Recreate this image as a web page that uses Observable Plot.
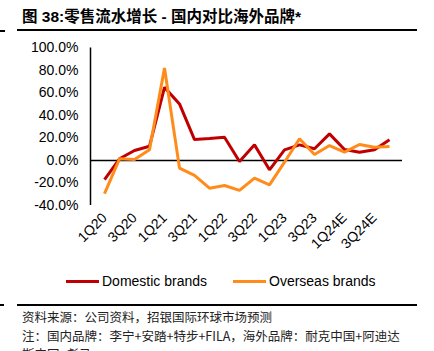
<!DOCTYPE html>
<html>
<head>
<meta charset="utf-8">
<script src="https://cdn.jsdelivr.net/npm/d3@7"></script>
<script src="https://cdn.jsdelivr.net/npm/@observablehq/plot@0.6"></script>
<style>
  html, body { margin: 0; padding: 0; background: #fff; }
  body { width: 434px; height: 351px; overflow: hidden; position: relative;
         font-family: "Liberation Sans", Arial, "Noto Sans CJK SC", sans-serif; }
  .abs { position: absolute; }
  #title { left: 22px; top: 4px; font-size: 15.5px; font-weight: bold; color: #000; white-space: nowrap;
           font-family: "Liberation Sans", Arial, "Noto Sans CJK SC", sans-serif; }
  .rule { background: #000; height: 2px; }
  #chart { left: 0; top: 36px; }
  .leg { top: 272px; font-size: 14px; color: #000; white-space: nowrap; line-height: 18px; }
  .sw { display: inline-block; width: 33px; height: 3px; vertical-align: middle; margin-right: 3px; position: relative; top: -1px; }
  .src { left: 22px; font-size: 12.5px; color: #222; white-space: nowrap;
         font-family: "Noto Sans CJK SC", sans-serif; line-height: 18px; }
</style>
</head>
<body>
<div id="title" class="abs">图 38:零售流水增长 - 国内对比海外品牌*</div>
<div class="abs rule" style="left:0;top:30px;width:5px;"></div>
<div class="abs rule" style="left:17px;top:29px;width:400px;"></div>
<div id="chart" class="abs"></div>
<div id="legend"></div>
<div class="abs rule" style="left:0;top:304px;width:4px;"></div>
<div class="abs rule" style="left:17px;top:304px;width:400px;"></div>
<div class="abs src" style="top:308px;">资料来源：公司资料，招银国际环球市场预测</div>
<div class="abs src" style="top:327px;">注：国内品牌：李宁+安踏+特步+FILA，海外品牌：耐克中国+阿迪达</div>
<div class="abs src" style="top:345px;">斯中国+彪马</div>
<script>
const quarters = ["1Q20","2Q20","3Q20","4Q20","1Q21","2Q21","3Q21","4Q21","1Q22","2Q22","3Q22","4Q22","1Q23","2Q23","3Q23","4Q23","1Q24E","2Q24E","3Q24E","4Q24E"];
const tickLabels = ["1Q20","3Q20","1Q21","3Q21","1Q22","3Q22","1Q23","3Q23","1Q24E","3Q24E"];
const domestic = [-17.1, 1.5, 8.9, 12.7, 65.0, 50.3, 18.6, 19.5, 20.7, -0.9, 13.9, -8.3, 9.5, 13.9, 10.4, 23.7, 9.8, 7.4, 9.5, 18.4];
const overseas = [-29.5, 1.5, 0.9, 9.5, 82.3, -6.8, -13.3, -24.6, -22.2, -26.6, -15.7, -21.6, -1.5, 19.3, 5.3, 13.3, 7.4, 14.2, 11.8, 12.4];
const yTicks = [-40, -20, 0, 20, 40, 60, 80, 100];
const seriesNames = ["Domestic brands", "Overseas brands"];
const seriesColors = ["#C00000", "#FF8C1A"];

const rows = [];
quarters.forEach((q, i) => {
  rows.push({q, v: domestic[i], s: seriesNames[0]});
  rows.push({q, v: overseas[i], s: seriesNames[1]});
});

const plot = Plot.plot({
  width: 434,
  height: 235,
  marginLeft: 90.5,
  marginRight: 32,
  marginTop: 11.5,
  marginBottom: 66,
  style: {fontFamily: "'Liberation Sans', Arial, sans-serif", fontSize: "14px", color: "#000", background: "transparent"},
  x: {type: "point", domain: quarters, padding: 0.5, label: null},
  y: {domain: [-40, 100], label: null},
  color: {domain: seriesNames, range: seriesColors},
  marks: [
    Plot.axisY({ticks: yTicks, tickSize: 0, tickPadding: 12.5, tickFormat: d => d.toFixed(1) + "%", label: null, fontSize: 14}),
    Plot.axisX({ticks: tickLabels, tickSize: 0, tickPadding: 10, tickRotate: -45, label: null, fontSize: 14}),
    Plot.ruleY([0], {stroke: "#000", strokeWidth: 1.5}),
    Plot.lineY(rows, {x: "q", y: "v", z: "s", stroke: "s", strokeWidth: 3, strokeLinejoin: "miter", strokeLinecap: "butt"})
  ]
});

// vertical y-axis line at the left edge of the x range, derived from the scales
const xr = plot.scale("x").range;
const yr = plot.scale("y").range;
d3.select(plot).append("line")
  .attr("x1", xr[0]).attr("x2", xr[0])
  .attr("y1", yr[0]).attr("y2", yr[1])
  .attr("stroke", "#000").attr("stroke-width", 1.5);

document.getElementById("chart").appendChild(plot);

// legend
const legend = document.getElementById("legend");
const legLeft = [66, 233];
seriesNames.forEach((name, i) => {
  const d = document.createElement("div");
  d.className = "abs leg";
  d.style.left = legLeft[i] + "px";
  d.innerHTML = `<span class="sw" style="background:${seriesColors[i]}"></span>${name}`;
  legend.appendChild(d);
});
</script>
</body>
</html>
